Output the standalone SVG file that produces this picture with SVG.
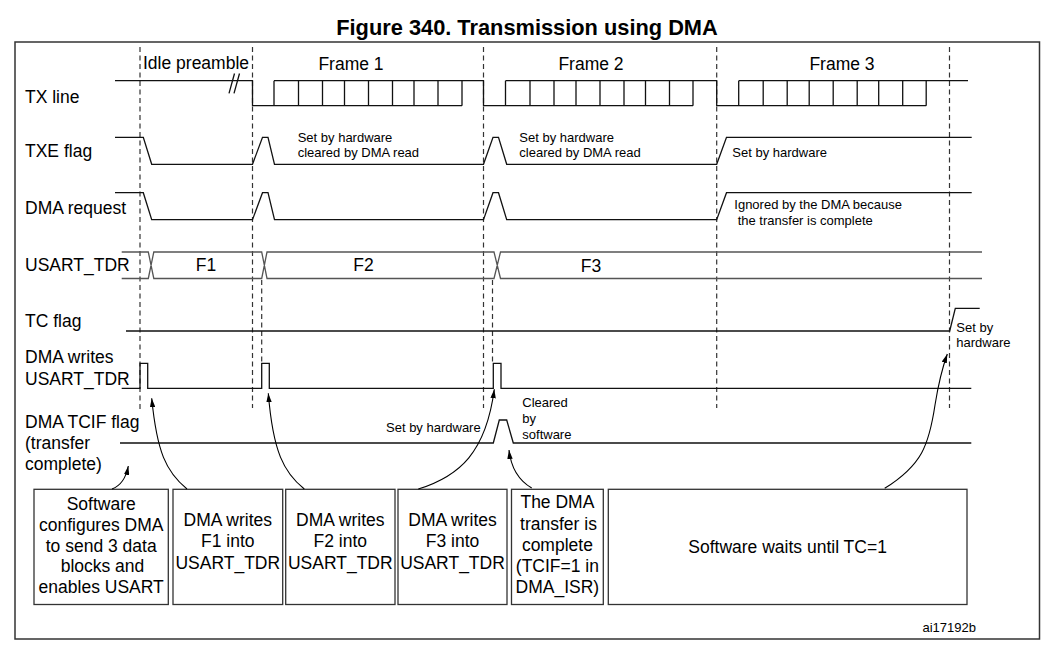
<svg xmlns="http://www.w3.org/2000/svg" width="1053" height="651" viewBox="0 0 1053 651">
<style>
text{font-family:"Liberation Sans",Arial,sans-serif;fill:#000}
.lab{font-size:17.5px}
.sm{font-size:13px}
.box{fill:#fff;stroke:#333;stroke-width:1.3}
.bt{font-size:17.5px;text-anchor:middle}
.sig{fill:none;stroke:#111;stroke-width:1.3}
.bus{fill:none;stroke:#555;stroke-width:1.3}
.dash{fill:none;stroke:#333;stroke-width:1.2;stroke-dasharray:5,3.5}
.arr{fill:none;stroke:#000;stroke-width:1.1;marker-end:url(#ah)}
</style>
<defs>
<marker id="ah" viewBox="0 0 10 6" refX="10" refY="3" markerWidth="9" markerHeight="5.5" markerUnits="userSpaceOnUse" orient="auto">
<path d="M0,0 L10,3 L0,6 z" fill="#000"/>
</marker>
</defs>
<rect width="1053" height="651" fill="#fff"/>
<text x="527" y="34.5" text-anchor="middle" font-size="21.8" font-weight="bold">Figure 340. Transmission using DMA</text>
<rect x="15" y="42" width="1024.5" height="597" fill="none" stroke="#333" stroke-width="1.5"/>

<g id="guides">
<path class="dash" d="M140,47 V410 M252.5,47 V408 M483.5,47 V408 M716.7,47 V408 M949.5,47 V408 M261.7,280 V363 M492.5,280 V363"/>
</g>

<g id="row-labels">
<text class="lab" x="25" y="103">TX line</text>
<text class="lab" x="25" y="156.7">TXE flag</text>
<text class="lab" x="25" y="214">DMA request</text>
<text class="lab" x="25" y="270.7">USART_TDR</text>
<text class="lab" x="25" y="326.7">TC flag</text>
<text class="lab" x="25" y="363">DMA writes</text>
<text class="lab" x="25" y="384.5">USART_TDR</text>
<text class="lab" x="25" y="428.3">DMA TCIF flag</text>
<text class="lab" x="25" y="449.3">(transfer</text>
<text class="lab" x="25" y="470">complete)</text>
</g>

<g id="tx-line">
<path class="sig" d="M115,80.7 H252.5 V105.7 H462 M274,80.7 H483.5 V105.7 H693 M505.5,80.7 H716.7 V105.7 H926.2 M738.7,80.7 H968"/>
<path class="sig" stroke="#333" d="M274,80.7V105.7 M298.5,80.7V105.7 M322.5,80.7V105.7 M344.5,80.7V105.7 M368.5,80.7V105.7 M392.5,80.7V105.7 M414,80.7V105.7 M438,80.7V105.7 M462,80.7V105.7
M505.5,80.7V105.7 M530,80.7V105.7 M554,80.7V105.7 M576,80.7V105.7 M600,80.7V105.7 M624,80.7V105.7 M645.5,80.7V105.7 M669.5,80.7V105.7 M693,80.7V105.7
M738.7,80.7V105.7 M763.2,80.7V105.7 M787.2,80.7V105.7 M809.2,80.7V105.7 M833.2,80.7V105.7 M857.2,80.7V105.7 M878.7,80.7V105.7 M902.7,80.7V105.7 M926.2,80.7V105.7"/>
<path class="sig" d="M229,93.3 L234.5,73.5 M234,93.3 L239.5,73.5"/>
<text class="lab" x="143" y="69">Idle preamble</text>
<text class="lab" x="351" y="70" text-anchor="middle">Frame 1</text>
<text class="lab" x="591" y="70" text-anchor="middle">Frame 2</text>
<text class="lab" x="842" y="70" text-anchor="middle">Frame 3</text>
</g>

<g id="txe-flag">
<path class="sig" d="M115,137.3 H143.3 L151.7,164.3 H252.5 L262.5,137.3 H268 L274.5,164.3 H483.5 L493,137.3 H498.5 L506.7,164.3 H716.7 L726.5,137.3 H971.7"/>
<text class="sm" x="297.7" y="141.5">Set by hardware</text>
<text class="sm" x="297.7" y="157.3">cleared by DMA read</text>
<text class="sm" x="519.3" y="141.5">Set by hardware</text>
<text class="sm" x="519.3" y="157.3">cleared by DMA read</text>
<text class="sm" x="732.3" y="156.5">Set by hardware</text>
</g>

<g id="dma-request">
<path class="sig" d="M115,192.7 H143.3 L151.7,219.7 H252.5 L262.5,192.7 H268 L274.5,219.7 H483.5 L493,192.7 H498.5 L506.7,219.7 H716.7 L726.5,192.7 H971.7"/>
<text class="sm" x="734.3" y="209.3">Ignored by the DMA because</text>
<text class="sm" x="737.7" y="225">the transfer is complete</text>
</g>

<g id="usart-tdr">
<path class="bus" d="M121.7,252 H148.3 L153.8,278.5 H261.7 L267,252 H494 L500.5,278.5 H982 M121.7,278.5 H148.3 L153.8,252 H261.7 L267,278.5 H494 L500.5,252 H982"/>
<text class="lab" x="206" y="270.7" text-anchor="middle">F1</text>
<text class="lab" x="363.5" y="270.7" text-anchor="middle">F2</text>
<text class="lab" x="591" y="271.5" text-anchor="middle">F3</text>
</g>

<g id="tc-flag">
<path class="sig" d="M126,331 H949.7 L955.3,308.3 H979.7"/>
<text class="sm" x="956.3" y="331.5">Set by</text>
<text class="sm" x="956.3" y="347.3">hardware</text>
</g>

<g id="dma-writes">
<path class="sig" d="M121.7,388.3 H140 V363.3 H147.7 V388.3 H261.7 V363.3 H269.3 V388.3 H493.3 V363.3 H501 V388.3 H971.3"/>
</g>

<g id="dma-tcif">
<path class="sig" d="M120,443 H493.3 L499.3,420 H506.7 L513.3,443 H971.3"/>
<text class="sm" x="480.7" y="431.7" text-anchor="end">Set by hardware</text>
<text class="sm" x="522.3" y="406.7">Cleared</text>
<text class="sm" x="522.3" y="422.5">by</text>
<text class="sm" x="522.3" y="439">software</text>
</g>

<g id="box-config">
<rect class="box" x="34" y="489.3" width="134.3" height="115.2"/>
<text class="bt" x="101.2" y="510">Software</text>
<text class="bt" x="101.2" y="530.5">configures DMA</text>
<text class="bt" x="101.2" y="551.5">to send 3 data</text>
<text class="bt" x="102.5" y="572">blocks and</text>
<text class="bt" x="101.2" y="593">enables USART</text>
</g>
<g id="box-f1">
<rect class="box" x="173" y="489.3" width="109.7" height="115.2"/>
<text class="bt" x="227.8" y="526">DMA writes</text>
<text class="bt" x="227.8" y="547.3">F1 into</text>
<text class="bt" x="227.8" y="569">USART_TDR</text>
</g>
<g id="box-f2">
<rect class="box" x="285.7" y="489.3" width="109.3" height="115.2"/>
<text class="bt" x="340.3" y="526">DMA writes</text>
<text class="bt" x="340.3" y="547.3">F2 into</text>
<text class="bt" x="340.3" y="569">USART_TDR</text>
</g>
<g id="box-f3">
<rect class="box" x="398" y="489.3" width="109" height="115.2"/>
<text class="bt" x="452.5" y="526">DMA writes</text>
<text class="bt" x="452.5" y="547.3">F3 into</text>
<text class="bt" x="452.5" y="569">USART_TDR</text>
</g>
<g id="box-complete">
<rect class="box" x="511.5" y="489.3" width="91.8" height="115.2"/>
<text class="bt" x="557.4" y="508">The DMA</text>
<text class="bt" x="558.5" y="529.5">transfer is</text>
<text class="bt" x="557.4" y="550.5">complete</text>
<text class="bt" x="557.4" y="571.5">(TCIF=1 in</text>
<text class="bt" x="557.4" y="592.5">DMA_ISR)</text>
</g>
<g id="box-wait">
<rect class="box" x="608.3" y="489.3" width="358.7" height="115.2"/>
<text class="bt" x="787.6" y="553">Software waits until TC=1</text>
</g>

<g id="connectors">
<path class="arr" d="M112,489 C120,486 126,478 128.3,466"/>
<path class="arr" d="M187,489 C166,472 157,452 151.7,398.3"/>
<path class="arr" d="M304.3,489 C284,473 273,452 268.3,393.3"/>
<path class="arr" d="M418.3,489 C460,476 486,452 494.3,389.3"/>
<path class="arr" d="M531.7,488 C518,480 511,468 509,450"/>
<path class="arr" d="M884.7,488.3 C922,465 929,445 935,405 C939,380 943,366 947.3,354"/>
</g>

<text class="sm" x="976" y="631.7" text-anchor="end">ai17192b</text>
</svg>
